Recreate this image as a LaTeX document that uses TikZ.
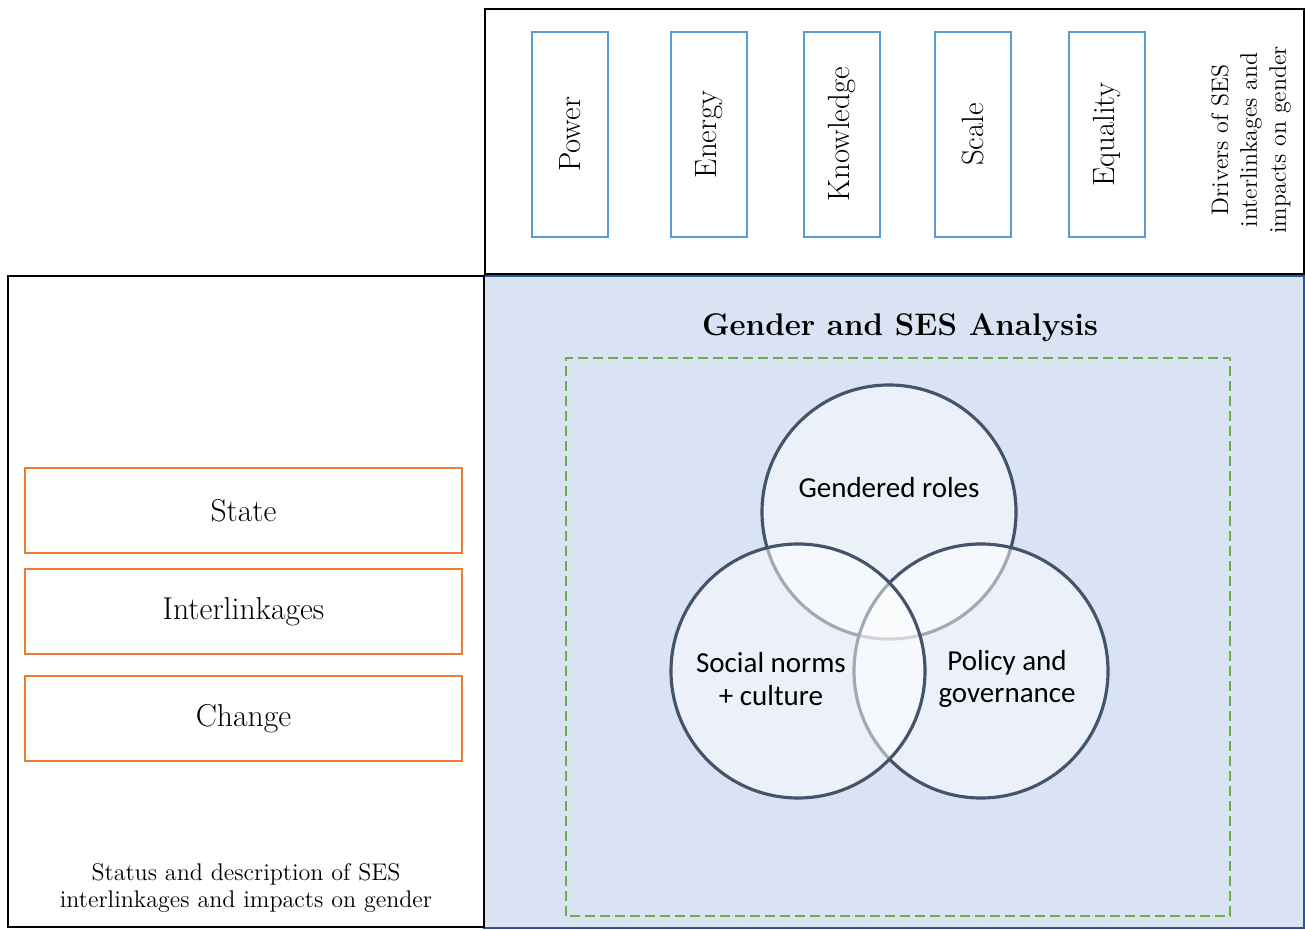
\documentclass[tikz,border=0pt]{standalone}
\usepackage{fontspec}
\newfontfamily\vennfont{Carlito}
\usetikzlibrary{positioning}

\definecolor{panelfill}{HTML}{DAE3F3}
\definecolor{paneledge}{HTML}{2F5597}
\definecolor{driverblue}{HTML}{5B9BD5}
\definecolor{stageorange}{HTML}{ED7D31}
\definecolor{dashgreen}{HTML}{70AD47}
\definecolor{vennline}{HTML}{44546A}

\begin{document}
\begin{tikzpicture}[
	frame/.style = {draw=black, line width=1.5pt},
	driver/.style = {draw=driverblue, line width=1.5pt, rotate=90, minimum width=4.1cm, minimum height=1.52cm, inner sep=0pt, font=\fontsize{17.5}{21}\selectfont},
	stagebox/.style = {draw=stageorange, line width=1.6pt, minimum width=8.74cm, minimum height=1.7cm, inner sep=0pt, font=\fontsize{18}{21}\selectfont},
	venn/.style = {circle, draw=vennline, line width=1.8pt, fill=white, fill opacity=0.5, draw opacity=1, minimum size=5.08cm, inner sep=0pt},
	vennlabel/.style = {font=\vennfont\fontsize{16.5}{18.3}\selectfont, align=center}
]
	\useasboundingbox (0,0) rectangle (26.1,18.58);

	% analysis panel, left panel and drivers strip
	\draw [fill=panelfill, draw=paneledge, line width=1.3pt] (9.68,0.02) rectangle (26.08,13.06);
	\draw [frame] (0.16,0.04) rectangle (9.68,13.06);
	\draw [frame, fill=white] (9.7,13.1) rectangle (26.08,18.4);

	% drivers
	\node [driver] (power) at (11.4,15.89) {Power};
	\node [driver] (energy) at (14.18,15.89) {Energy};
	\node [driver] (knowledge) at (16.84,15.89) {Knowledge};
	\node [driver] (scale) at (19.46,15.89) {Scale};
	\node [driver] (equality) at (22.14,15.89) {Equality};
	\node [rotate=90, align=center, font=\fontsize{13.6}{16.4}\selectfont] (drivers) at (25.02,15.78) {Drivers of SES\\interlinkages and\\impacts on gender};

	% status boxes
	\node [stagebox] (state) at (4.87,8.37) {State};
	\node [stagebox] (interlink) at (4.87,6.35) {Interlinkages};
	\node [stagebox] (change) at (4.87,4.21) {Change};
	\node [align=center, font=\fontsize{13.7}{15.6}\selectfont] (status) at (4.92,0.82) {Status and description of SES\\interlinkages and impacts on gender};

	% analysis
	\node [font=\fontsize{17.8}{22}\selectfont\bfseries] (title) at (18.0,12.02) {Gender and SES Analysis};
	\draw [dashgreen, line width=0.8pt, dash pattern=on 0.2cm off 0.1cm] (11.32,0.26) rectangle (24.6,11.42);

	\node [venn] (roles) at (17.78,8.34) {};
	\node [venn] (policy) at (19.62,5.16) {};
	\node [venn] (norms) at (15.96,5.16) {};
	\node [vennlabel] (roleslabel) at (17.78,8.82) {Gendered roles};
	\node [vennlabel] (normslabel) at (15.42,5.0) {Social norms\\+ culture};
	\node [vennlabel] (policylabel) at (20.14,5.0) {Policy and\\governance};
\end{tikzpicture}
\end{document}
